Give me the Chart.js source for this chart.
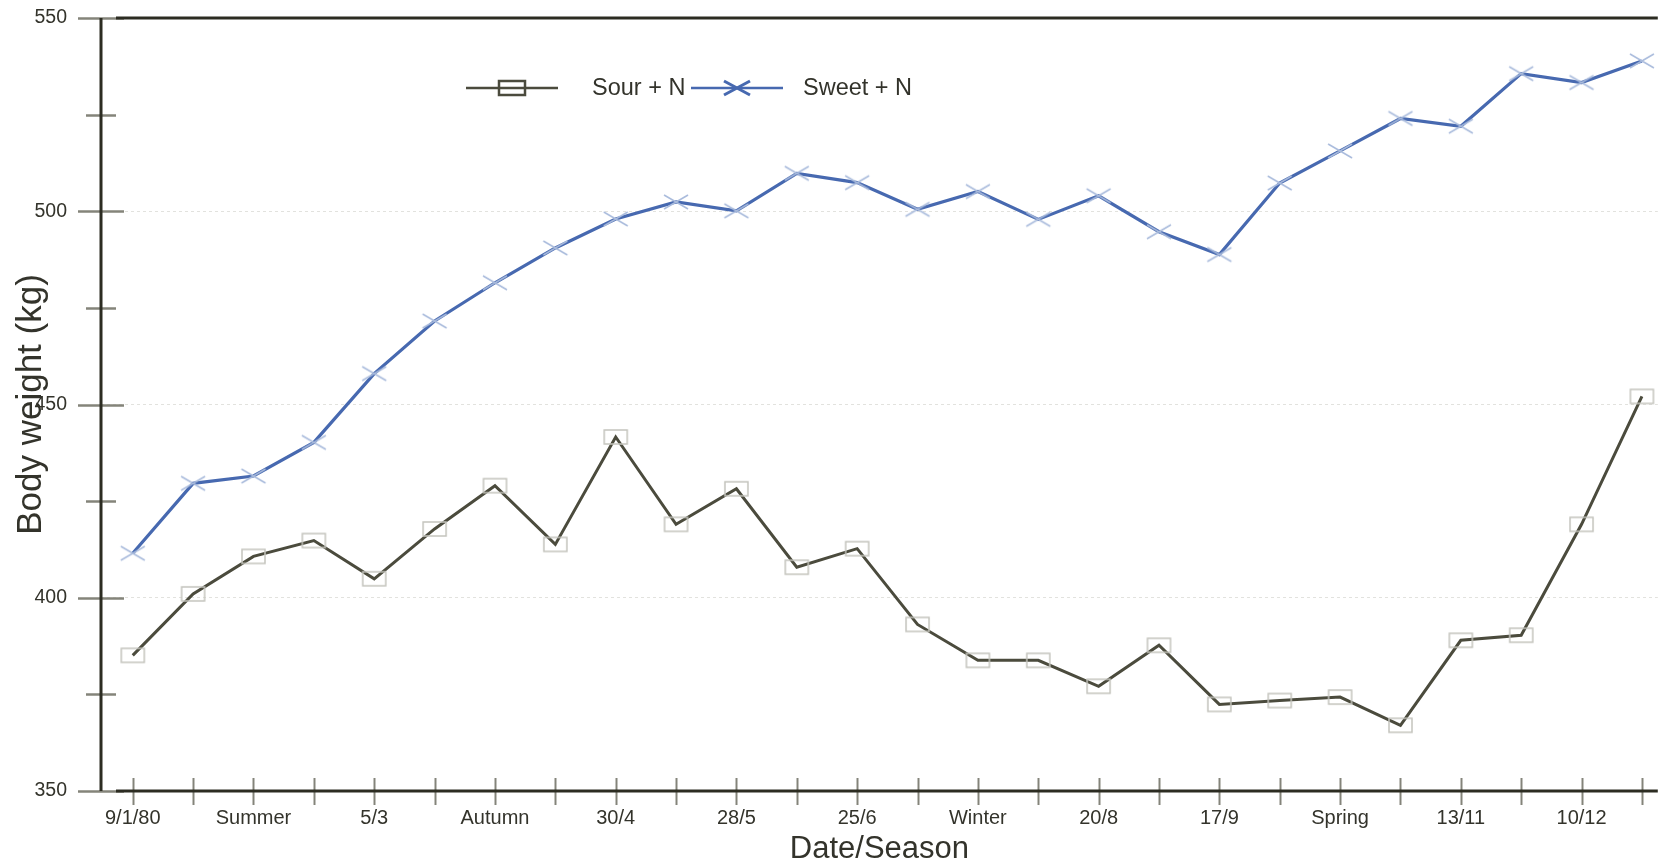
<!DOCTYPE html>
<html><head><meta charset="utf-8">
<script src="https://cdn.jsdelivr.net/npm/chart.js@4.4.1/dist/chart.umd.min.js"></script>
<style>html,body{margin:0;padding:0;background:#fff;}#wrap{width:1669px;height:860px;position:relative;}</style>
</head><body><div id="wrap"><canvas id="c" width="1669" height="860"></canvas></div>
<script>
const categories = ['9/1/80','','Summer','','5/3','','Autumn','','30/4','','28/5','','25/6','','Winter','','20/8','','17/9','','Spring','','13/11','','10/12',''];
const sourN  = [385.1, 401.0, 410.7, 414.8, 404.9, 417.8, 429.0, 413.8, 441.6, 419.0, 428.2, 407.9, 412.7, 393.1, 383.8, 383.8, 377.1, 387.7, 372.4, 373.4, 374.3, 367.0, 389.0, 390.3, 419.0, 452.1];
const sweetN = [411.5, 429.6, 431.5, 440.2, 458.0, 471.6, 481.5, 490.5, 498.0, 502.4, 500.1, 509.8, 507.4, 500.5, 505.1, 497.9, 504.0, 494.7, 488.8, 507.3, 515.6, 524.0, 522.0, 535.6, 533.3, 538.9];
const yTickValues = [350, 375, 400, 425, 450, 475, 500, 525, 550];
const yTickLabels = ['350', '', '400', '', '450', '', '500', '', '550'];
const seriesNames = ['Sour + N', 'Sweet + N'];

const FONT = 'Arial, "Liberation Sans", sans-serif';
const TEXT = '#33332b';
const SOUR_COLOR = '#4b4b3d';
const SWEET_COLOR = '#4769b0';
const CLEAR = 'rgba(0,0,0,0)';

function makeRectMarker(w, h, color, lw) {
  const c = document.createElement('canvas');
  c.width = w + 4; c.height = h + 4;
  const g = c.getContext('2d');
  g.strokeStyle = color; g.lineWidth = lw;
  g.strokeRect(2, 2, w, h);
  return c;
}
function makeXMarker(w, h, color, lw) {
  const c = document.createElement('canvas');
  c.width = w + 4; c.height = h + 4;
  const g = c.getContext('2d');
  g.strokeStyle = color; g.lineWidth = lw;
  g.beginPath();
  g.moveTo(2, 2); g.lineTo(2 + w, 2 + h);
  g.moveTo(2 + w, 2); g.lineTo(2, 2 + h);
  g.stroke();
  return c;
}
const sourMarker = makeRectMarker(23, 14, '#c4c4bd', 1.5);
const sweetMarker = makeXMarker(24, 14, '#a9bbdc', 1.5);
const sourLegendMarker = makeRectMarker(26, 14, SOUR_COLOR, 2.5);
const sweetLegendMarker = makeXMarker(26, 14, SWEET_COLOR, 3);

const axesPlugin = {
  id: 'axesDeco',
  beforeDatasetsDraw(chart) {
    const {ctx, chartArea: a, scales: {x, y}} = chart;
    ctx.save();
    ctx.strokeStyle = '#84847a';
    ctx.lineWidth = 2.5;
    yTickValues.forEach((v, i) => {
      const py = Math.round(y.getPixelForValue(v)) + 0.5;
      const half = yTickLabels[i] ? 23 : 15;
      ctx.beginPath(); ctx.moveTo(a.left - half, py); ctx.lineTo(a.left + half, py); ctx.stroke();
    });
    ctx.lineWidth = 2;
    categories.forEach((c, i) => {
      const px = Math.round(x.getPixelForValue(i)) + 0.5;
      ctx.beginPath(); ctx.moveTo(px, a.bottom - 13); ctx.lineTo(px, a.bottom + 14); ctx.stroke();
    });
    ctx.strokeStyle = '#2c2c22';
    ctx.lineWidth = 3;
    ctx.beginPath(); ctx.moveTo(a.left, a.top); ctx.lineTo(a.left, a.bottom); ctx.stroke();
    ctx.beginPath(); ctx.moveTo(a.left + 15, a.top); ctx.lineTo(a.right, a.top); ctx.stroke();
    ctx.beginPath(); ctx.moveTo(a.left + 15, a.bottom); ctx.lineTo(a.right, a.bottom); ctx.stroke();
    ctx.restore();
  }
};

const legendPlugin = {
  id: 'customLegend',
  afterDraw(chart) {
    const ctx = chart.ctx;
    const ly = 88;
    const items = [
      {x0: 466, x1: 558, tx: 592, color: SOUR_COLOR, marker: sourLegendMarker, text: seriesNames[0]},
      {x0: 691, x1: 783, tx: 803, color: SWEET_COLOR, marker: sweetLegendMarker, text: seriesNames[1]}
    ];
    ctx.save();
    items.forEach(it => {
      ctx.strokeStyle = it.color; ctx.lineWidth = 2.5;
      ctx.beginPath(); ctx.moveTo(it.x0, ly); ctx.lineTo(it.x1, ly); ctx.stroke();
      const cx = (it.x0 + it.x1) / 2;
      ctx.drawImage(it.marker, Math.round(cx - it.marker.width / 2), Math.round(ly - it.marker.height / 2));
      ctx.fillStyle = TEXT;
      ctx.font = '23.5px ' + FONT;
      ctx.textBaseline = 'middle';
      ctx.textAlign = 'left';
      ctx.fillText(it.text, it.tx, ly + 1);
    });
    ctx.restore();
  }
};

new Chart(document.getElementById('c'), {
  type: 'line',
  data: {
    datasets: [
      {
        label: seriesNames[0],
        data: sourN.map((v, i) => ({x: i, y: v})),
        borderColor: SOUR_COLOR, borderWidth: 3,
        pointStyle: sourMarker, pointRadius: 8, pointHoverRadius: 8,
        tension: 0, fill: false
      },
      {
        label: seriesNames[1],
        data: sweetN.map((v, i) => ({x: i, y: v})),
        borderColor: SWEET_COLOR, borderWidth: 3.2,
        pointStyle: sweetMarker, pointRadius: 8, pointHoverRadius: 8,
        tension: 0, fill: false
      }
    ]
  },
  options: {
    responsive: false,
    animation: false,
    devicePixelRatio: 1,
    layout: {padding: {top: 18, right: 0, bottom: 0, left: 0}},
    plugins: {legend: {display: false}, tooltip: {enabled: false}},
    scales: {
      x: {
        type: 'linear',
        min: -0.526, max: 25.263,
        afterFit(s) { s.height = 69; },
        afterBuildTicks(s) { s.ticks = categories.map((c, i) => ({value: i})); },
        grid: {display: true, drawOnChartArea: false, drawTicks: true, tickLength: 15, tickColor: CLEAR, color: CLEAR},
        border: {display: false},
        ticks: {
          autoSkip: false, maxRotation: 0, minRotation: 0, includeBounds: false,
          padding: 0, color: TEXT, font: {family: FONT, size: 20},
          callback: (v) => categories[v] !== undefined ? categories[v] : ''
        },
        title: {display: true, text: 'Date/Season', color: TEXT,
          font: {family: FONT, size: 31, lineHeight: 0.7}, padding: {top: 0, bottom: 0}}
      },
      y: {
        type: 'linear',
        min: 350, max: 550,
        afterFit(s) { s.width = 101; },
        afterBuildTicks(s) { s.ticks = yTickValues.map(v => ({value: v})); },
        grid: {
          drawTicks: true, tickLength: 34, tickColor: CLEAR, lineWidth: 1,
          color: (ctx) => (ctx.tick && [400, 450, 500].includes(ctx.tick.value)) ? '#e2e2de' : CLEAR
        },
        border: {display: false, dash: [3, 3]},
        ticks: {
          padding: 0, color: TEXT, font: {family: FONT, size: 19.5},
          callback: (v, i) => yTickLabels[i]
        },
        title: {display: true, text: 'Body weight (kg)', color: TEXT,
          font: {family: FONT, size: 35, lineHeight: 1}, padding: {top: 14, bottom: 0}}
      }
    }
  },
  plugins: [axesPlugin, legendPlugin]
});
</script>
</body></html>
